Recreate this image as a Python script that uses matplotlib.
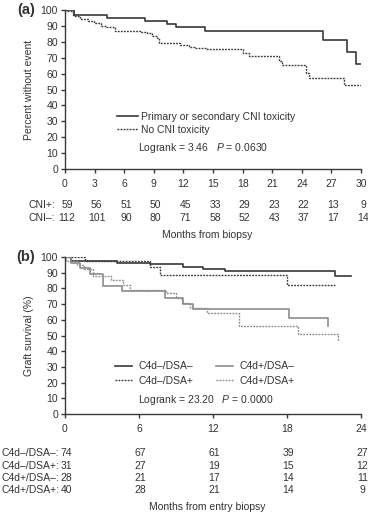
import matplotlib
matplotlib.use('Agg')
import matplotlib.pyplot as plt
import matplotlib.transforms as mtransforms

plt.rcParams['font.family'] = ['Liberation Sans', 'DejaVu Sans']
plt.rcParams['mathtext.fontset'] = 'custom'
plt.rcParams['mathtext.rm'] = 'Liberation Sans'
plt.rcParams['mathtext.it'] = 'Liberation Sans:italic'

# ---- panel (a) data: CNI toxicity ----
cni_pos_t = [0, 0.9, 4.3, 8.1, 10.3, 11.3, 14.2, 26.1, 28.6, 29.5, 30.1]
cni_pos_s = [100, 97, 95.2, 93.3, 91.2, 89.5, 86.8, 81.1, 73.6, 66.2, 66.2]
cni_neg_t = [0, 0.1, 0.8, 1.0, 1.5, 2.3, 2.9, 3.6, 4.2, 5.1, 7.6, 8.3, 8.8, 9.3, 9.5,
             11.7, 12.6, 13.2, 14.4, 18.0, 18.6, 21.7, 22.0, 24.4, 24.7, 28.3, 30.1]
cni_neg_s = [100, 99.4, 97, 96, 94.5, 92.8, 91.8, 90, 89, 87, 86.4, 85.4, 83.9, 82.3, 79.5,
             78.1, 77, 76.1, 75.5, 73, 70.8, 68, 65.5, 60.6, 57, 53, 53]
a_ticks = [0, 3, 6, 9, 12, 15, 18, 21, 24, 27, 30]
a_risk_labels = ['CNI+:', 'CNI\u2013:']
a_risk = [[59, 56, 51, 50, 45, 33, 29, 23, 22, 13, 9],
          [112, 101, 90, 80, 71, 58, 52, 43, 37, 17, 14]]

# ---- panel (b) data: C4d / DSA groups ----
nn_t = [0, 0.5, 4.2, 6.9, 9.6, 11.2, 13.0, 21.9, 23.2]
nn_s = [100, 97.3, 96.2, 95.4, 93.6, 92.6, 90.9, 87.9, 87.9]
np_t = [0, 1.6, 6.9, 7.7, 18.0, 21.9]
np_s = [100, 97.3, 93.6, 88.4, 82.0, 82.0]
pn_t = [0, 0.5, 1.2, 2.0, 3.1, 4.6, 8.1, 9.6, 10.4, 18.2, 21.3, 21.3]
pn_s = [100, 96.4, 93, 89.4, 81.6, 78.2, 74.1, 69.8, 66.6, 61.1, 56, 56]
pp_t = [0, 0.1, 1.0, 1.5, 2.3, 3.7, 4.7, 5.3, 8.2, 9.0, 9.5, 10.1, 11.5, 14.1, 18.9, 22.1]
pp_s = [100, 97.7, 95, 92.2, 87.9, 85.2, 82, 78.8, 77, 74, 70.6, 67.6, 64.6, 55.9, 51.2, 46.4]
b_ticks = [0, 6, 12, 18, 24]
b_risk_labels = ['C4d\u2013/DSA\u2013:', 'C4d\u2013/DSA+:', 'C4d+/DSA\u2013:', 'C4d+/DSA+:']
b_risk = [[74, 67, 61, 39, 27],
          [31, 27, 19, 15, 12],
          [28, 21, 17, 14, 11],
          [40, 28, 21, 14, 9]]

dark = '#383838'
grey = '#8c8c8c'
txt = '#333333'
fs = 7.5
dots = (0, (1.3, 0.9))

fig = plt.figure(figsize=(3.68, 5.15), dpi=100, facecolor='white')
ax_a = fig.add_axes([65/368, 1 - 169/515, 296/368, 159/515])
ax_b = fig.add_axes([65/368, 1 - 414/515, 296/368, 157/515])


def style_axes(ax, xmax, ticks):
    ax.set_xlim(0, xmax)
    ax.set_ylim(0, 100)
    ax.set_xticks(ticks)
    ax.set_yticks(range(0, 101, 10))
    for s in ['top', 'right']:
        ax.spines[s].set_visible(False)
    for s in ['left', 'bottom']:
        ax.spines[s].set_color(dark)
        ax.spines[s].set_linewidth(1.0)
    ax.tick_params(direction='out', length=3, width=1.0, color=dark,
                   labelsize=fs, labelcolor=txt, pad=2)
    ax.tick_params(axis='x', pad=4)


# panel (a)
ax_a.step(cni_pos_t, cni_pos_s, where='post', color=dark, lw=1.2,
          label='Primary or secondary CNI toxicity')
ax_a.step(cni_neg_t, cni_neg_s, where='post', color=dark, lw=1.0, ls=dots,
          label='No CNI toxicity')
style_axes(ax_a, 30, a_ticks)
ax_a.set_ylabel('Percent without event', fontsize=fs, color=txt)
ax_a.yaxis.set_label_coords(-0.106, 0.5)
ax_a.legend(loc='upper left', bbox_to_anchor=(0.176, 0.36), frameon=False,
            fontsize=fs, handlelength=2.0, handletextpad=0.25, labelspacing=0.3,
            borderpad=0, borderaxespad=0, labelcolor=txt)
ax_a.text(0.247, 0.132, 'Logrank = 3.46   $\\it{P}$ = 0.0630', transform=ax_a.transAxes,
          fontsize=fs, color=txt, va='center')
ax_a.text(-0.101, 1.0, '(a)', transform=ax_a.transAxes, fontsize=10.5,
          fontweight='bold', color=txt, va='center', ha='right')

tr_a = mtransforms.blended_transform_factory(ax_a.transData, ax_a.transAxes)
for row, (lab, vals) in enumerate(zip(a_risk_labels, a_risk)):
    y = [-0.224, -0.306][row]
    ax_a.text(-0.122, y, lab, transform=ax_a.transAxes, fontsize=fs, color=txt,
              va='center', ha='left')
    for t, v in zip(a_ticks, vals):
        ax_a.text(t + 0.2, y, str(v), transform=tr_a, fontsize=fs, color=txt,
                  va='center', ha='center')
ax_a.text(0.48, -0.415, 'Months from biopsy', transform=ax_a.transAxes,
          fontsize=fs, color=txt, va='center', ha='center')

# panel (b)
ax_b.step(nn_t, nn_s, where='post', color=dark, lw=1.2, label='C4d\u2013/DSA\u2013')
ax_b.step(np_t, np_s, where='post', color=dark, lw=1.0, ls=dots, label='C4d\u2013/DSA+')
ax_b.step(pn_t, pn_s, where='post', color=grey, lw=1.2, label='C4d+/DSA\u2013')
ax_b.step(pp_t, pp_s, where='post', color=grey, lw=1.0, ls=dots, label='C4d+/DSA+')
style_axes(ax_b, 24, b_ticks)
ax_b.set_ylabel('Graft survival (%)', fontsize=fs, color=txt)
ax_b.yaxis.set_label_coords(-0.106, 0.5)
ax_b.legend(loc='upper left', bbox_to_anchor=(0.169, 0.335), frameon=False, ncol=2,
            fontsize=fs, handlelength=1.65, handletextpad=0.6, labelspacing=0.45,
            columnspacing=2.2, borderpad=0, borderaxespad=0, labelcolor=txt)
ax_b.text(0.247, 0.09, 'Logrank = 23.20   $\\it{P}$ = 0.0000', transform=ax_b.transAxes,
          fontsize=fs, color=txt, va='center')
ax_b.text(-0.101, 1.0, '(b)', transform=ax_b.transAxes, fontsize=10.5,
          fontweight='bold', color=txt, va='center', ha='right')

tr_b = mtransforms.blended_transform_factory(ax_b.transData, ax_b.transAxes)
for row, (lab, vals) in enumerate(zip(b_risk_labels, b_risk)):
    y = [-0.246, -0.331, -0.410, -0.484][row]
    ax_b.text(-0.213, y, lab, transform=ax_b.transAxes, fontsize=fs, color=txt,
              va='center', ha='left')
    for t, v in zip(b_ticks, vals):
        ax_b.text(t + 0.1, y, str(v), transform=tr_b, fontsize=fs, color=txt,
                  va='center', ha='center')
ax_b.text(0.481, -0.592, 'Months from entry biopsy', transform=ax_b.transAxes,
          fontsize=fs, color=txt, va='center', ha='center')

fig.savefig('out.png', dpi=100, facecolor='white')
